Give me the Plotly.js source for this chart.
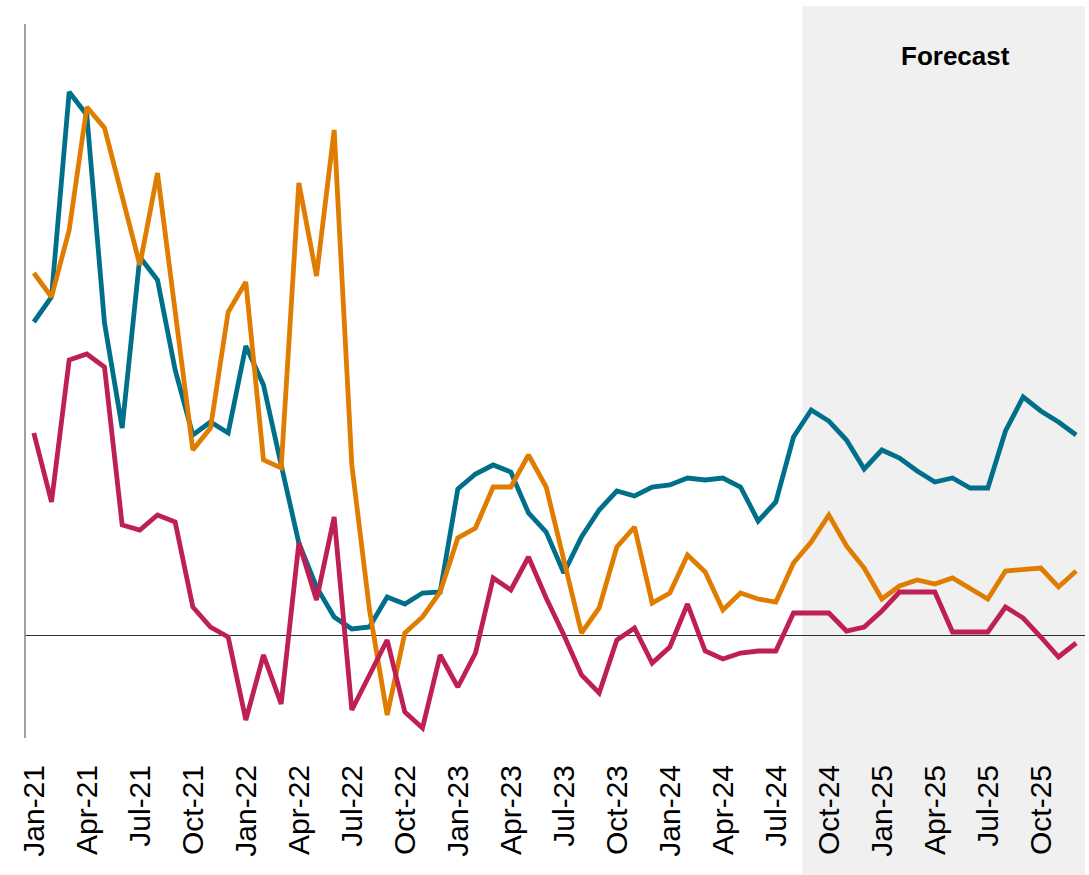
<!DOCTYPE html>
<html>
<head>
<meta charset="utf-8">
<script src="https://cdn.plot.ly/plotly-3.0.1.min.js"></script>
<style>html,body{margin:0;padding:0;background:#fff;}#chart{width:1089px;height:875px;}</style>
</head>
<body>
<div id="chart"></div>
<script>
const months = ["Jan-21","Feb-21","Mar-21","Apr-21","May-21","Jun-21","Jul-21","Aug-21","Sep-21","Oct-21","Nov-21","Dec-21",
"Jan-22","Feb-22","Mar-22","Apr-22","May-22","Jun-22","Jul-22","Aug-22","Sep-22","Oct-22","Nov-22","Dec-22",
"Jan-23","Feb-23","Mar-23","Apr-23","May-23","Jun-23","Jul-23","Aug-23","Sep-23","Oct-23","Nov-23","Dec-23",
"Jan-24","Feb-24","Mar-24","Apr-24","May-24","Jun-24","Jul-24","Aug-24","Sep-24","Oct-24","Nov-24","Dec-24",
"Jan-25","Feb-25","Mar-25","Apr-25","May-25","Jun-25","Jul-25","Aug-25","Sep-25","Oct-25","Nov-25","Dec-25"];

const tealSeries = [15.65,16.9,27.15,26.0,15.6,10.35,18.9,17.75,13.25,10.0,10.65,10.1,
14.45,12.5,8.5,4.6,2.4,0.9,0.3,0.4,1.9,1.55,2.1,2.15,
7.3,8.05,8.5,8.15,6.1,5.15,3.1,4.9,6.25,7.2,6.95,7.4,
7.5,7.85,7.75,7.85,7.4,5.7,6.65,9.9,11.25,10.7,9.75,8.3,
9.25,8.85,8.2,7.65,7.85,7.35,7.35,10.2,11.9,11.2,10.65,10.0];

const orangeSeries = [18.1,16.9,20.25,26.4,25.35,21.95,18.5,23.1,16.25,9.25,10.35,16.15,
17.65,8.75,8.35,22.6,17.95,25.25,8.5,1.25,-4.0,0.1,0.9,2.15,
4.85,5.35,7.4,7.4,9.0,7.4,3.75,0.1,1.35,4.4,5.4,1.6,
2.1,4.0,3.15,1.25,2.1,1.8,1.65,3.6,4.65,6.0,4.45,3.35,
1.8,2.45,2.75,2.55,2.85,2.35,1.8,3.2,3.3,3.35,2.4,3.2];

const crimsonSeries = [10.1,6.65,13.75,14.05,13.4,5.5,5.25,6.0,5.65,1.4,0.4,-0.1,
-4.25,-1.0,-3.45,4.6,1.75,5.9,-3.75,-2.0,-0.25,-3.85,-4.65,-1.0,
-2.6,-0.9,2.85,2.25,3.9,1.85,0.0,-2.0,-2.9,-0.25,0.35,-1.4,
-0.6,1.55,-0.8,-1.2,-0.9,-0.8,-0.8,1.1,1.1,1.1,0.2,0.4,
1.2,2.15,2.15,2.15,0.15,0.15,0.15,1.4,0.85,-0.1,-1.1,-0.4];

const forecastStart = "Sep-24";
const forecastLabel = "Forecast";

const idx = months.map((m,i)=>i);
const tickIdx = idx.filter(i => i % 3 === 0);
const tickText = tickIdx.map(i => months[i]);
const fStart = months.indexOf(forecastStart) - 0.5;

const yMin = -5.15, yMax = 31.45, axisTop = 30.55;

function line(y, color){
  return {x: idx, y: y, type:'scatter', mode:'lines',
    line:{color: color, width:4.8, shape:'linear'}, hoverinfo:'skip', showlegend:false};
}

const data = [
  line(tealSeries, '#006F8A'),
  line(orangeSeries, '#E07C00'),
  line(crimsonSeries, '#BE1F55')
];

const layout = {
  width:1089, height:875,
  margin:{l:25, r:4, t:6, b:137},
  paper_bgcolor:'#ffffff', plot_bgcolor:'rgba(0,0,0,0)',
  showlegend:false,
  font:{family:'"Liberation Sans", Arial, sans-serif', color:'#000'},
  xaxis:{
    range:[-0.5, months.length-0.5],
    tickmode:'array', tickvals: tickIdx, ticktext: tickText,
    tickangle:-90, ticks:'', showgrid:false, zeroline:false, showline:false,
    tickfont:{size:30, family:'"Liberation Sans", Arial, sans-serif', color:'#000'},
    ticklabelstandoff: 20
  },
  yaxis:{
    range:[yMin, yMax], showticklabels:false, ticks:'', showgrid:false,
    showline:false, zeroline:true, zerolinecolor:'#303030', zerolinewidth:1
  },
  shapes:[
    {type:'rect', xref:'x', yref:'paper', x0:fStart, x1:months.length-0.5, y0:-0.2, y1:1,
     fillcolor:'#F0F0F0', line:{width:0}, layer:'below'},
    {type:'line', xref:'paper', yref:'y', x0:0, x1:0, y0:yMin, y1:axisTop,
     line:{color:'#808080', width:1.5}, layer:'above'}
  ],
  annotations:[
    {text:'<b>'+forecastLabel+'</b>', xref:'x', yref:'paper', x:52.15, y:0.932,
     showarrow:false, font:{size:26, color:'#000', family:'"Liberation Sans", Arial, sans-serif'},
     xanchor:'center', yanchor:'middle'}
  ]
};

Plotly.newPlot('chart', data, layout, {displayModeBar:false, staticPlot:true});
</script>
</body>
</html>
